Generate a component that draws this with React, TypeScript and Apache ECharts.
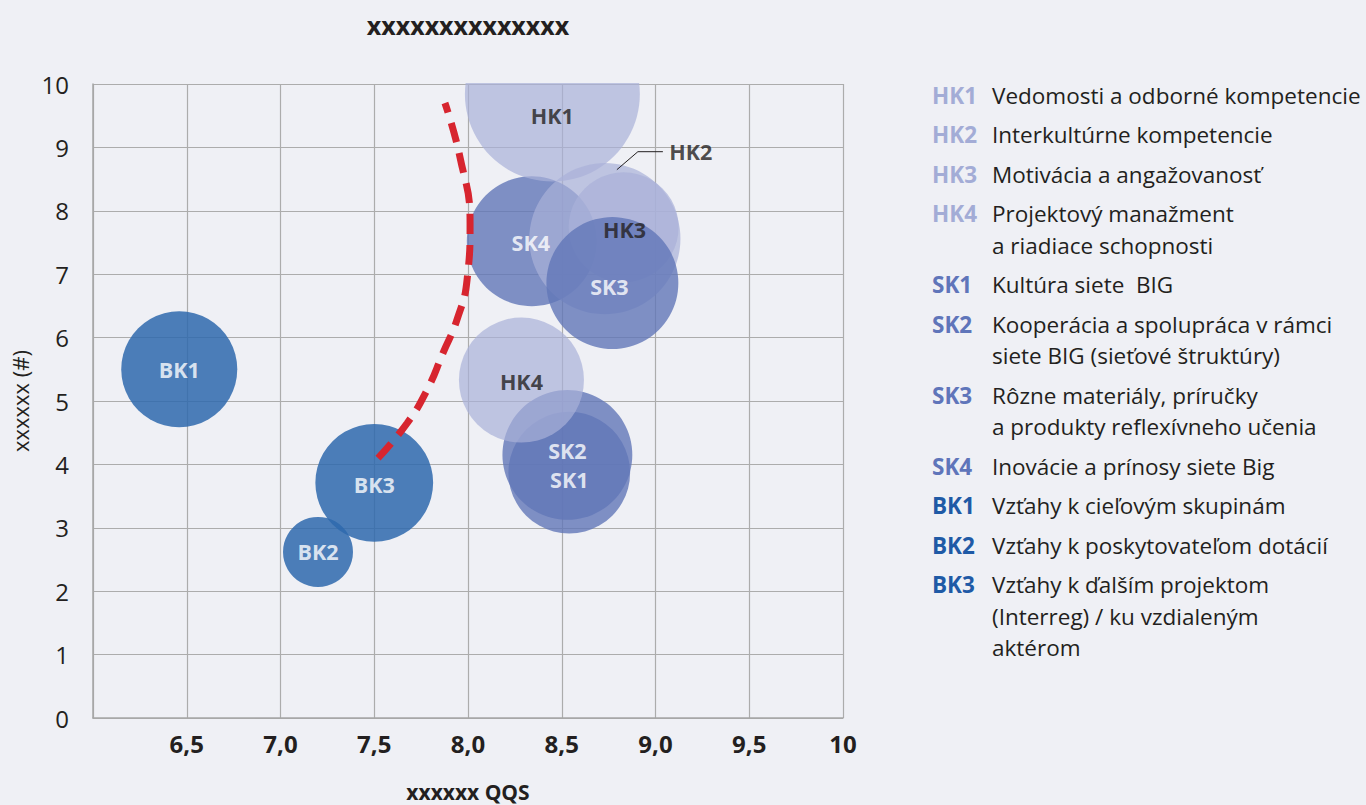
import React, { useEffect, useRef } from 'react';
import * as echarts from 'echarts';

const TITLE = 'xxxxxxxxxxxxxx';
const X_NAME = 'xxxxxx QQS';
const Y_NAME = 'xxxxxx (#)';

// Bubbles: human competences (HK), social/network (SK), business (BK)
const hkCodes = ['HK1', 'HK2', 'HK3', 'HK4'];
const hkX = [8.45, 8.73, 8.83, 8.285];
const hkY = [9.84, 7.56, 7.74, 5.33];
const hkSize = [225, 168, 89, 115];

const skCodes = ['SK1', 'SK2', 'SK3', 'SK4'];
const skX = [8.54, 8.53, 8.77, 8.34];
const skY = [3.87, 4.15, 6.86, 7.52];
const skSize = [109, 124, 128, 124];

const bkCodes = ['BK1', 'BK2', 'BK3'];
const bkX = [6.46, 7.2, 7.5];
const bkY = [5.5, 2.62, 3.71];
const bkSize = [99, 36, 102];

// Red dashed frontier curve
const curveX = [7.52, 7.675, 7.781, 7.867, 7.941, 7.995, 8.011, 7.957, 7.877];
const curveY = [4.1, 4.65, 5.17, 5.76, 6.28, 6.91, 7.81, 8.85, 9.7];

// Right-hand legend
const legendCodes = ['HK1', 'HK2', 'HK3', 'HK4', 'SK1', 'SK2', 'SK3', 'SK4', 'BK1', 'BK2', 'BK3'];
const legendTexts = [
  'Vedomosti a odborné kompetencie',
  'Interkultúrne kompetencie',
  'Motivácia a angažovanosť',
  'Projektový manažment\na riadiace schopnosti',
  'Kultúra siete  BIG',
  'Kooperácia a spolupráca v rámci\nsiete BIG (sieťové štruktúry)',
  'Rôzne materiály, príručky\na produkty reflexívneho učenia',
  'Inovácie a prínosy siete Big',
  'Vzťahy k cieľovým skupinám',
  'Vzťahy k poskytovateľom dotácií',
  'Vzťahy k ďalším projektom\n(Interreg) / ku vzdialeným\naktérom',
];

const BG = '#eff0f5';
const FONT = "'Open Sans', sans-serif";
const TEXT = '#231f20';

const groupColor: Record<string, string> = { HK: '#a3acd6', SK: '#5f75ba', BK: '#1f5aa6' };

// label offsets (style only)
const labelOffset: Record<string, number[]> = {
  HK1: [0, 21], HK2: [86, -87], HK3: [1, 2], HK4: [0, 1],
  SK1: [0, 7], SK2: [0, -4], SK3: [-3, 3], SK4: [-1, 1],
  BK1: [0, 0], BK2: [0, 0], BK3: [0, 2],
};

const sizeToDiameter = (v: number) => 2 * Math.sqrt(v * 34);

function bubbleSeries(name: string, codes: string[], xs: number[], ys: number[], sizes: number[], color: string, opacity: number, z: number, keep: (c: string) => boolean) {
  return {
    type: 'scatter',
    name,
    z,
    data: codes
      .map((c, i) => ({ name: c, value: [xs[i], ys[i], sizes[i]] }))
      .filter((d) => keep(d.name)),
    symbolSize: (val: number[]) => sizeToDiameter(val[2]),
    itemStyle: { color, opacity },
    label: { show: false },
    emphasis: { disabled: true },
  };
}

function labelSeries(codes: string[], xs: number[], ys: number[], labelColor: string) {
  return {
    type: 'scatter',
    z: 20,
    data: codes.map((c, i) => ({
      name: c,
      value: [xs[i], ys[i]],
      label: { offset: labelOffset[c] },
    })),
    symbolSize: 1,
    itemStyle: { color: 'rgba(0,0,0,0)' },
    label: {
      show: true,
      position: 'inside',
      formatter: (p: any) => p.name,
      color: labelColor,
      fontFamily: FONT,
      fontWeight: 'bold',
      fontSize: 21.5,
    },
    emphasis: { disabled: true },
    silent: true,
  };
}

export default function App() {
  const ref = useRef<HTMLDivElement>(null);

  useEffect(() => {
    document.body.style.margin = '0';
    document.body.style.background = BG;
    const chart = echarts.init(ref.current!, null, { renderer: 'svg' });

    const legendGraphics: any[] = [];
    let y = 95;
    legendCodes.forEach((code, i) => {
      const lines = legendTexts[i].split('\n').length;
      legendGraphics.push({
        type: 'text',
        id: 'code' + i,
        x: 932,
        y,
        style: {
          text: code,
          fill: groupColor[code.slice(0, 2)],
          fontFamily: FONT,
          fontWeight: 'bold',
          fontSize: 22.5,
          verticalAlign: 'middle',
        },
      });
      legendGraphics.push({
        type: 'text',
        id: 'desc' + i,
        x: 992,
        y: y - 15.75,
        style: {
          text: legendTexts[i],
          fill: TEXT,
          fontFamily: FONT,
          fontSize: 22.5,
          lineHeight: 31.5,
          verticalAlign: 'top',
        },
      });
      y += (lines - 1) * 31.5 + 39.5;
    });

    const option: any = {
      animation: false,
      backgroundColor: BG,
      grid: { left: 93, right: 523, top: 84, bottom: 87, containLabel: false, outerBoundsMode: 'none' },
      xAxis: {
        type: 'value',
        min: 6,
        max: 10,
        interval: 0.5,
        name: X_NAME,
        nameLocation: 'middle',
        nameGap: 63,
        nameTextStyle: { fontFamily: FONT, fontWeight: 'bold', fontSize: 21, color: TEXT },
        axisLine: { show: true, lineStyle: { color: '#a6a6a6', width: 1.5 } },
        axisTick: { show: false },
        splitLine: { show: true, lineStyle: { color: '#acacac', width: 1.2 } },
        axisLabel: {
          margin: 13,
          fontFamily: FONT,
          fontWeight: 'bold',
          fontSize: 24,
          color: TEXT,
          formatter: (v: number) => (v === 6 ? '' : v === 10 ? '10' : v.toFixed(1).replace('.', ',')),
        },
      },
      yAxis: {
        type: 'value',
        min: 0,
        max: 10,
        interval: 1,
        name: Y_NAME,
        nameLocation: 'middle',
        nameGap: 61,
        nameTextStyle: { fontFamily: FONT, fontSize: 22, color: TEXT },
        axisLine: { show: true, lineStyle: { color: '#a6a6a6', width: 1.5 } },
        axisTick: { show: false },
        splitLine: { show: true, lineStyle: { color: '#acacac', width: 1.2 } },
        axisLabel: { margin: 24, fontFamily: FONT, fontSize: 24, color: TEXT },
      },
      series: [
        bubbleSeries('SK', skCodes, skX, skY, skSize, '#6277b8', 0.8, 2, (c) => c !== 'SK3'),
        bubbleSeries('HK', hkCodes, hkX, hkY, hkSize, '#a9b1d8', 0.7, 3, () => true),
        bubbleSeries('SK3', skCodes, skX, skY, skSize, '#6277b8', 0.8, 4, (c) => c === 'SK3'),
        bubbleSeries('BK', bkCodes, bkX, bkY, bkSize, '#2e68ad', 0.85, 5, () => true),
        labelSeries(skCodes, skX, skY, '#ffffff'),
        labelSeries(hkCodes, hkX, hkY, TEXT),
        labelSeries(bkCodes, bkX, bkY, '#ffffff'),
        {
          type: 'line',
          z: 10,
          data: curveX.map((x, i) => [x, curveY[i]]),
          smooth: 0.5,
          showSymbol: false,
          lineStyle: { color: '#d7252f', width: 7, type: [20, 11] },
          emphasis: { disabled: true },
        },
      ],
      graphic: [
        { type: 'rect', id: 'mask', z: 50, shape: { x: 88, y: 0, width: 762, height: 83 }, style: { fill: BG } },
        {
          type: 'text',
          id: 'title',
          z: 100,
          x: 468,
          y: 25,
          style: {
            text: TITLE,
            fill: TEXT,
            fontFamily: FONT,
            fontWeight: 'bold',
            fontSize: 25,
            align: 'center',
            verticalAlign: 'middle',
          },
        },
        ...legendGraphics,
      ],
    };
    chart.setOption(option);

    // leader line for HK2 label
    const idx = hkCodes.indexOf('HK2');
    const c = chart.convertToPixel({ gridIndex: 0 }, [hkX[idx], hkY[idx]]) as number[];
    chart.setOption({
      graphic: [
        {
          type: 'polyline',
          id: 'leader',
          z: 60,
          shape: { points: [[c[0] + 12, c[1] - 69], [c[0] + 33, c[1] - 87], [c[0] + 58, c[1] - 87]] },
          style: { stroke: TEXT, lineWidth: 1, fill: null },
        },
      ],
    });

    return () => chart.dispose();
  }, []);

  return <div ref={ref} style={{ width: 1366, height: 805, background: BG }} />;
}
